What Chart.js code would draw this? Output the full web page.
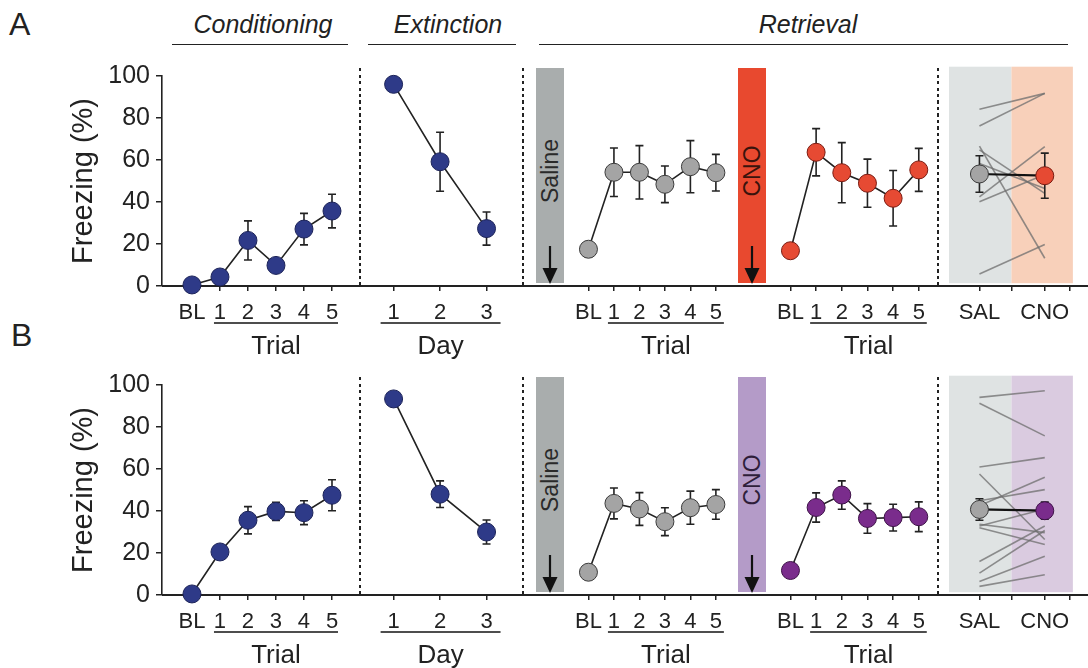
<!DOCTYPE html>
<html>
<head>
<meta charset="utf-8">
<title>Freezing</title>
<script src="https://cdn.jsdelivr.net/npm/chart.js@4.4.1/dist/chart.umd.min.js"></script>
<style>
  html, body { margin: 0; padding: 0; background: #fff; }
  body { position: relative; width: 1088px; height: 668px; overflow: hidden;
         font-family: "Liberation Sans", Arial, sans-serif; color: #222; }
  canvas, .abs { position: absolute; }
  .t { position: absolute; line-height: 1; white-space: nowrap; }
  .hl { position: absolute; height: 1.6px; background: #222; }
  .sep { position: absolute; width: 2px;
         background: repeating-linear-gradient(to bottom, #222 0 3px, transparent 3px 6.5px); }
  .box { position: absolute; }
</style>
</head>
<body>
<script>
const FONT = '"Liberation Sans", Arial, sans-serif';
Chart.defaults.font.family = FONT;
Chart.defaults.color = '#222';

// categories / tick labels
const condLabels = ['BL', '1', '2', '3', '4', '5'];
const extLabels = ['1', '2', '3'];
const retLabels = ['BL', '1', '2', '3', '4', '5'];
const pairLabels = ['SAL', '', 'CNO', ''];
const yTicks = [0, 20, 40, 60, 80, 100];

// row A
const condA = [0.5, 4.3, 21.7, 9.8, 27.1, 35.7];
const condAErr = [0, 0, 9.3, 0, 7.5, 8];
const extA = [93.8, 57.8, 26.7];
const extAErr = [0, 13.7, 7.7];
const salA = [17.1, 52.9, 52.9, 47.3, 55.5, 52.7];
const salAErr = [3.5, 11.3, 12.4, 8.5, 12.1, 8.5];
const cnoA = [16.4, 62.2, 52.7, 47.8, 40.8, 54];
const cnoAErr = [0, 11, 14, 11.2, 12.9, 10];
const pairMeanA = [52.1, 51.3];
const pairErrA = [8.5, 10.5];
const indivSalA = [82.2, 74.4, 65.1, 63.3, 57, 41.5, 39.2, 5.6];
const indivCnoA = [89.6, 89.6, 12.9, 43.1, 45.4, 64.8, 51.9, 19.3];

// row B
const condB = [0.5, 20.5, 35.6, 39.8, 39.2, 47.5];
const condBErr = [0, 0, 6.5, 4.3, 5.7, 7.4];
const extB = [91.2, 46.9, 29.3];
const extBErr = [0, 6.2, 5.6];
const salB = [10.6, 42.6, 40, 34.1, 40.6, 42.1];
const salBErr = [0, 7.2, 7.6, 6.5, 7.7, 6.9];
const cnoB = [11.4, 40.7, 46.5, 35.6, 36, 36.4];
const cnoBErr = [0, 6.8, 6.6, 6.9, 6.2, 6.9];
const pairMeanB = [39.8, 39.2];
const pairErrB = [5, 4];
const indivSalB = [91.9, 89.2, 59.5, 56.3, 43.8, 41.5, 32.9, 32.1, 31.3, 15.6, 10.2, 6.3, 4.0];
const indivCnoB = [95, 74, 63.9, 25.8, 49, 54.8, 29, 40, 23.5, 32.1, 30, 18, 9.4];

const NAVY = '#2e3a88', NAVY_EDGE = '#1c2358';
const GREY = '#a4a4a4', GREY_EDGE = '#3a3a3a';

// panel plot areas (px) and x ranges
const P = {
  cond: { left: 162, right: 360, xmin: -1.07, xmax: 6.0 },
  ext:  { left: 362, right: 520, xmin: -0.68, xmax: 2.72 },
  sal:  { left: 566, right: 735, xmin: -0.77, xmax: 5.75 },
  cno:  { left: 768, right: 937, xmin: -0.77, xmax: 5.71 },
  pair: { left: 949, right: 1079, xmin: -0.466, xmax: 1.43 }
};

const errorBars = {
  id: 'errorBars',
  beforeDatasetDraw(chart, args) {
    const ds = chart.data.datasets[args.index];
    if (!ds.errors) return;
    const y = chart.scales.y, ctx = chart.ctx;
    ctx.save();
    ctx.strokeStyle = '#222';
    ctx.lineWidth = 1.6;
    args.meta.data.forEach(function (pt, i) {
      const e = ds.errors[i];
      if (!e) return;
      const v = ds.data[i].y;
      const t = y.getPixelForValue(v + e), b = y.getPixelForValue(v - e);
      ctx.beginPath();
      ctx.moveTo(pt.x, t); ctx.lineTo(pt.x, b);
      ctx.moveTo(pt.x - 4, t); ctx.lineTo(pt.x + 4, t);
      ctx.moveTo(pt.x - 4, b); ctx.lineTo(pt.x + 4, b);
      ctx.stroke();
    });
    ctx.restore();
  }
};

function series(vals, errs, fill, edge) {
  return {
    data: vals.map((v, i) => ({ x: i, y: v })),
    errors: errs,
    borderColor: '#222', borderWidth: 1.6,
    pointRadius: 9, pointBorderWidth: 1,
    pointBackgroundColor: fill, pointBorderColor: edge,
    clip: false, order: 0
  };
}

function indiv(s, c) {
  return {
    data: [{ x: 0, y: s }, { x: 1, y: c }],
    borderColor: 'rgba(110,110,110,0.75)', borderWidth: 1.6,
    pointRadius: 0, clip: false, order: 1
  };
}

function panel(o) {
  const yW = o.yAxis ? 100 : 0;
  const padTop = 16, plotH = 215, xH = 80;
  const cv = document.createElement('canvas');
  cv.width = o.right - o.left + yW;
  cv.height = padTop + plotH + xH;
  cv.style.left = (o.left - yW) + 'px';
  cv.style.top = (o.top - padTop) + 'px';
  document.body.appendChild(cv);

  const decor = {
    id: 'decor',
    beforeDatasetsDraw(chart) {
      if (!o.bands) return;
      const ctx = chart.ctx, x = chart.scales.x, y = chart.scales.y;
      o.bands.forEach(function (b) {
        const x0 = x.getPixelForValue(b.from), x1 = x.getPixelForValue(b.to);
        const y0 = y.getPixelForValue(102), y1 = y.getPixelForValue(1.3);
        ctx.fillStyle = b.color;
        ctx.fillRect(x0, y0, x1 - x0, y1 - y0);
      });
    },
    afterDraw(chart) {
      if (!o.bracket) return;
      const br = o.bracket, ctx = chart.ctx, x = chart.scales.x;
      const x0 = x.getPixelForValue(br.from) - br.padL;
      const x1 = x.getPixelForValue(br.to) + br.padR;
      const yl = chart.chartArea.bottom + 37;
      ctx.save();
      ctx.fillStyle = '#222';
      ctx.fillRect(x0, yl - 0.8, x1 - x0, 1.6);
      ctx.font = '26px ' + FONT;
      ctx.textAlign = 'center';
      ctx.textBaseline = 'alphabetic';
      ctx.fillText(br.text, (x0 + x1) / 2, chart.chartArea.bottom + 68);
      ctx.restore();
    }
  };

  new Chart(cv, {
    type: 'line',
    data: { datasets: o.sets },
    options: {
      responsive: false,
      animation: false,
      events: [],
      layout: { autoPadding: false, padding: { top: padTop, left: 0, right: 0, bottom: 0 } },
      plugins: { legend: { display: false }, tooltip: { enabled: false } },
      scales: {
        x: {
          type: 'linear', min: o.xmin, max: o.xmax,
          afterBuildTicks: s => { s.ticks = o.ticks.map(v => ({ value: v })); },
          afterFit: s => { s.height = xH; },
          border: { display: false },
          grid: { drawOnChartArea: false, drawTicks: true, tickLength: 5, color: '#222', lineWidth: 1.5 },
          ticks: {
            autoSkip: false, maxRotation: 0, minRotation: 0, padding: 9,
            color: '#222', font: { size: 22 },
            callback: (v, i) => o.tickText[i]
          }
        },
        y: {
          display: !!o.yAxis, min: 0, max: 100,
          afterFit: s => { s.width = yW; },
          border: { display: true, color: '#222', width: 1.6 },
          grid: { drawOnChartArea: false, drawTicks: true, tickLength: 6, color: '#222', lineWidth: 1.5 },
          ticks: {
            stepSize: 10, padding: 6, color: '#222', font: { size: 25 },
            callback: v => yTicks.includes(v) ? v : ''
          },
          title: {
            display: true, text: 'Freezing (%)', color: '#222',
            font: { size: 29 }, padding: { top: 5, bottom: 0 }
          }
        }
      }
    },
    plugins: [errorBars, decor]
  });
}

function el(cls, css, html) {
  const d = document.createElement('div');
  d.className = cls;
  d.style.cssText = css;
  if (html) d.innerHTML = html;
  document.body.appendChild(d);
  return d;
}

function txt(s, x, base, size, extra, center) {
  const top = base - 0.8465 * size;
  el('t', 'left:' + x + 'px;top:' + top + 'px;font-size:' + size + 'px;' +
     (center ? 'transform:translateX(-50%);' : '') + (extra || ''), s);
}

function drugBar(label, left, top, color, textColor) {
  el('box', 'left:' + left + 'px;top:' + (top - 3) + 'px;width:28px;height:215px;background:' + color);
  el('t', 'left:' + (left + 14) + 'px;top:' + (top + 100) + 'px;font-size:23px;color:' + textColor +
     ';transform:translate(-50%,-50%) rotate(-90deg);', label);
  el('abs', 'left:' + (left + 5) + 'px;top:' + (top + 175) + 'px;',
     '<svg width="18" height="40"><line x1="9" y1="0" x2="9" y2="26" stroke="#111" stroke-width="2.2"/>' +
     '<polygon points="1.5,22 16.5,22 9,38" fill="#111"/></svg>');
}

function buildRow(r) {
  const top = r.top;
  // baseline and separators
  el('hl', 'left:162px;top:' + (top + 214.2) + 'px;width:926px;');
  [360, 523, 938].forEach(function (x) {
    el('sep', 'left:' + (x - 1) + 'px;top:' + (top - 3) + 'px;height:218px;');
  });
  drugBar('Saline', 536, top, '#a9adad', '#2a2a2a');
  drugBar('CNO', 738, top, r.barColor, r.barText);

  panel(Object.assign({}, P.cond, {
    top, yAxis: true, ticks: [0, 1, 2, 3, 4, 5], tickText: condLabels,
    sets: [series(r.cond, r.condErr, NAVY, NAVY_EDGE)],
    bracket: { from: 1, to: 5, padL: 6, padR: 6, text: 'Trial' }
  }));
  panel(Object.assign({}, P.ext, {
    top, ticks: [0, 1, 2], tickText: extLabels,
    sets: [series(r.ext, r.extErr, NAVY, NAVY_EDGE)],
    bracket: { from: 0, to: 2, padL: 13, padR: 14, text: 'Day' }
  }));
  panel(Object.assign({}, P.sal, {
    top, ticks: [0, 1, 2, 3, 4, 5], tickText: retLabels,
    sets: [series(r.sal, r.salErr, GREY, GREY_EDGE)],
    bracket: { from: 1, to: 5, padL: 6, padR: 8, text: 'Trial' }
  }));
  panel(Object.assign({}, P.cno, {
    top, ticks: [0, 1, 2, 3, 4, 5], tickText: retLabels,
    sets: [series(r.cno, r.cnoErr, r.dot, r.dotEdge)],
    bracket: { from: 1, to: 5, padL: 6, padR: 8, text: 'Trial' }
  }));

  const mean = series(r.pairMean, r.pairErr, [GREY, r.dot], [GREY_EDGE, r.dotEdge]);
  mean.borderWidth = 2.2;
  mean.borderColor = '#111';
  const sets = [mean];
  r.indivSal.forEach((s, i) => sets.push(indiv(s, r.indivCno[i])));
  panel(Object.assign({}, P.pair, {
    top, ticks: [0, 0.49, 1, 1.386], tickText: pairLabels, sets,
    bands: [
      { from: P.pair.xmin, to: 0.49, color: '#dfe3e3' },
      { from: 0.49, to: P.pair.xmax, color: r.band }
    ]
  }));
}

// headers
txt('A', 9, 35, 32);
txt('B', 11, 346, 32);
txt('Conditioning', 263, 33, 25, 'font-style:italic;', true);
txt('Extinction', 448, 33, 25, 'font-style:italic;', true);
txt('Retrieval', 808, 33, 25, 'font-style:italic;', true);
el('hl', 'left:172px;top:43.5px;width:176px;');
el('hl', 'left:368px;top:43.5px;width:148px;');
el('hl', 'left:539px;top:43.5px;width:529px;');

buildRow({
  top: 71, cond: condA, condErr: condAErr, ext: extA, extErr: extAErr,
  sal: salA, salErr: salAErr, cno: cnoA, cnoErr: cnoAErr,
  pairMean: pairMeanA, pairErr: pairErrA, indivSal: indivSalA, indivCno: indivCnoA,
  dot: '#e64a33', dotEdge: '#7a1a10', barColor: '#e8492f', barText: '#3a130c', band: '#f8d0ba'
});
buildRow({
  top: 380, cond: condB, condErr: condBErr, ext: extB, extErr: extBErr,
  sal: salB, salErr: salBErr, cno: cnoB, cnoErr: cnoBErr,
  pairMean: pairMeanB, pairErr: pairErrB, indivSal: indivSalB, indivCno: indivCnoB,
  dot: '#7a2c8c', dotEdge: '#3e1248', barColor: '#b49bc8', barText: '#2e1e3a', band: '#dacbe0'
});
</script>
</body>
</html>
